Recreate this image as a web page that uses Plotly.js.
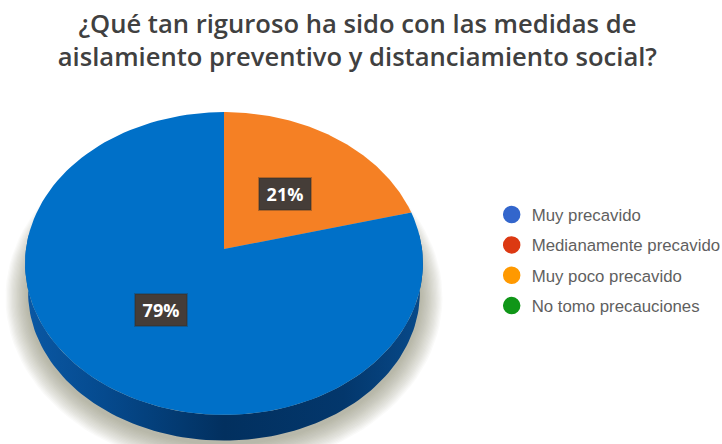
<!DOCTYPE html>
<html>
<head>
<meta charset="utf-8">
<script src="https://cdn.plot.ly/plotly-3.0.1.min.js"></script>
<style>html,body{margin:0;padding:0;background:#fff}#chart{width:722px;height:444px}</style>
</head>
<body>
<div id="chart"></div>
<script>
// Survey answers
const categories = ["Muy precavido", "Medianamente precavido", "Muy poco precavido", "No tomo precauciones"];
const values = [79, 0, 21, 0];
const legendColors = ["#3366cc", "#dc3912", "#ff9900", "#109618"];
const sliceColors = ["#0070c8", "#d84315", "#f58024", "#109618"];
const sliceOrder = [2, 0, 1, 3];
const titleLines = ["¿Qué tan riguroso ha sido con las medidas de", "aislamiento preventivo y distanciamiento social?"];

// Tilted disc: a circle seen in perspective, rear edge farther away
const disc = {cx: 224, cy: 249, a: 198, b: 150, k: 0.0957, depth: 29, baseInset: -3};
function project(theta, grow = 0, dy = 0) {
  const u = Math.sin(theta), v = Math.cos(theta), w = 1 + disc.k * v;
  return [disc.cx + (disc.a + grow) * u / w, disc.cy - (disc.b + grow) * v / w + dy];
}
function arc(from, to, grow = 0, dy = 0, steps = 120) {
  const pts = [];
  for (let i = 0; i <= steps; i++) pts.push(project(from + (to - from) * i / steps, grow, dy));
  return pts;
}
function area(pts, extra) {
  return Object.assign({
    type: "scatter", mode: "lines", x: pts.map(p => p[0]), y: pts.map(p => p[1]),
    fill: "toself", line: {width: 0}, hoverinfo: "skip", showlegend: false
  }, extra);
}

const traces = [];

// Soft shadow under the disc
const shadowSteps = 18;
for (let i = shadowSteps; i >= 1; i--) {
  traces.push(area(arc(0, 2 * Math.PI, i * 1.25 - 3, 32), {fillcolor: "rgba(130,118,108,0.04)"}));
}

// Side wall of the disc, visible on the near half only
const ellipseLeft = 1.5 * Math.PI + Math.asin(disc.k), ellipseRight = Math.PI / 2 - Math.asin(disc.k);
const wall = arc(ellipseRight, ellipseLeft).concat(arc(ellipseLeft, ellipseRight, disc.baseInset, disc.depth));
traces.push(area(wall, {
  fillgradient: {type: "horizontal", colorscale: [
    [0, "#0a58a4"], [0.2, "#054a8e"], [0.5, "#02305f"], [0.8, "#03376c"], [1, "#084a8a"]
  ]}
}));

// Top face slices, clockwise from twelve o'clock
const total = values.reduce((s, v) => s + v, 0);
let start = 0;
const annotations = [];
const labelSpots = {0: [161, 310], 2: [285, 194]};
sliceOrder.forEach(i => {
  if (!values[i]) return;
  const end = start + values[i] / total * 2 * Math.PI;
  const pts = [[disc.cx, disc.cy]].concat(arc(start, end));
  traces.push(area(pts, {fillcolor: sliceColors[i]}));
  start = end;
  annotations.push({
    x: labelSpots[i][0], y: labelSpots[i][1], xref: "x", yref: "y", showarrow: false,
    text: "<b>" + values[i] + "%</b>",
    font: {family: "Open Sans", size: 18, color: "#ffffff"},
    width: 44, height: 24, align: "center", valign: "middle",
    bgcolor: "#453d38", borderpad: 3, bordercolor: "rgba(50,45,40,0.35)", borderwidth: 2
  });
});

// Legend entries for all four answers
categories.forEach((name, i) => {
  traces.push({
    type: "scatter", mode: "markers", name: name, x: [null], y: [null],
    legendgroup: name,
    marker: {color: legendColors[i], size: 16, line: {color: legendColors[i], width: 1.5}},
    hoverinfo: "skip"
  });
});

Plotly.newPlot("chart", traces, {
  width: 722, height: 444,
  margin: {l: 0, r: 0, t: 0, b: 0, autoexpand: false},
  paper_bgcolor: "#ffffff", plot_bgcolor: "#ffffff",
  title: {
    text: titleLines.join("<br>"), x: 0.495, xanchor: "center", y: 0.926, yanchor: "top",
    font: {family: "Open Sans", size: 25.6, color: "#404040", weight: 600}
  },
  xaxis: {range: [0, 722], visible: false, fixedrange: true},
  yaxis: {range: [444, 0], visible: false, fixedrange: true},
  showlegend: true,
  legend: {
    xref: "container", yref: "container",
    x: 0.681, y: 0.556, xanchor: "left", yanchor: "top",
    traceorder: "grouped", tracegroupgap: 5.5, itemsizing: "trace", itemwidth: 30,
    bgcolor: "rgba(0,0,0,0)",
    font: {family: "Liberation Sans", size: 16.8, color: "#5f5f5f"}
  },
  annotations: annotations
}, {displayModeBar: false, staticPlot: true});
</script>
</body>
</html>
